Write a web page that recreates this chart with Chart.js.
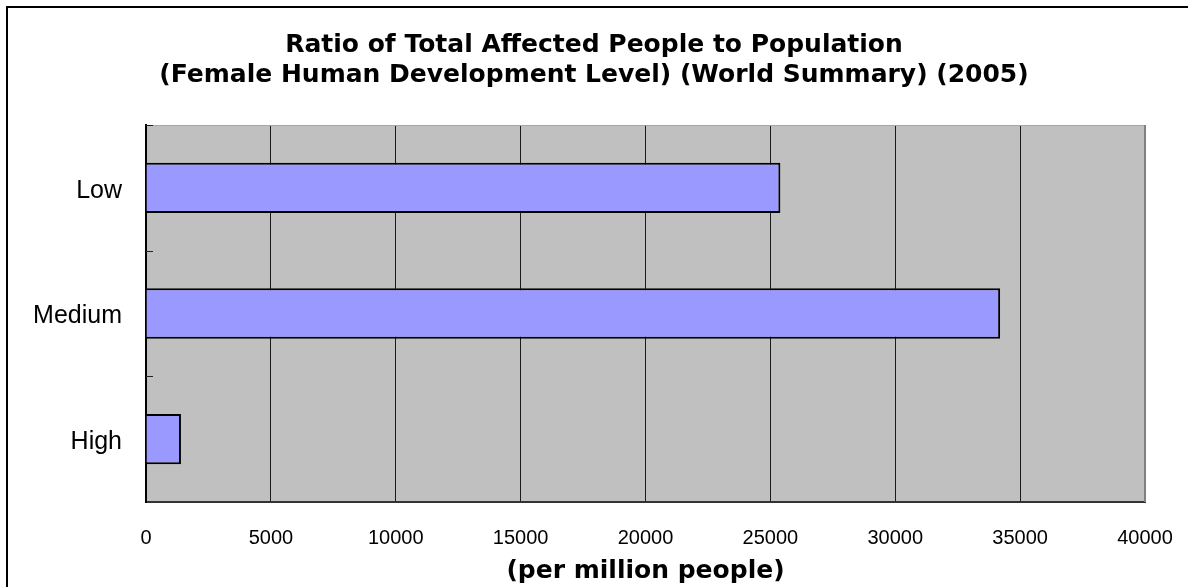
<!DOCTYPE html>
<html>
<head>
<meta charset="utf-8">
<script src="https://cdn.jsdelivr.net/npm/chart.js@4/dist/chart.umd.min.js"></script>
<style>
  body { margin: 0; background: #fff; }
  canvas { display: block; }
</style>
</head>
<body>
<canvas id="myChart" width="1188" height="587"></canvas>
<script>
var levels = ["Low", "Medium", "High"];
var ratios = [25400, 34200, 1400];
var xTicks = [0, 5000, 10000, 15000, 20000, 25000, 30000, 35000, 40000];
var titleLines = [
  "Ratio of Total Affected People to Population",
  "(Female Human Development Level) (World Summary) (2005)",
];
var unitLabel = "(per million people)";

var ctx = document.getElementById("myChart").getContext("2d");

// grey plot area, the odd excel style edges and the outer frame
var plotDecor = {
  id: "plotDecor",
  beforeDraw: function (chart) {
    var a = chart.chartArea;
    var c = chart.ctx;
    c.save();
    c.fillStyle = "#c0c0c0";
    c.fillRect(a.left, a.top, a.right - a.left, a.bottom - a.top);
    c.restore();
  },
  beforeDatasetsDraw: function (chart) {
    var a = chart.chartArea;
    var c = chart.ctx;
    var y = chart.scales.y;
    c.save();
    c.lineWidth = 1;
    c.strokeStyle = "#a6a6a6";
    c.beginPath();
    c.moveTo(a.left, a.top + 0.5);
    c.lineTo(a.right, a.top + 0.5);
    c.stroke();
    c.lineWidth = 2;
    c.strokeStyle = "#808080";
    c.beginPath();
    c.moveTo(a.right, a.top);
    c.lineTo(a.right, a.bottom);
    c.stroke();
    // small inside tick marks between the categories
    c.lineWidth = 1;
    c.strokeStyle = "#222";
    var step = (y.bottom - y.top) / levels.length;
    for (var i = 0; i < levels.length; i++) {
      var yy = Math.round(y.top + i * step) + 0.5;
      c.beginPath();
      c.moveTo(a.left, yy);
      c.lineTo(a.left + 7, yy);
      c.stroke();
    }
    c.restore();
  },
  afterDraw: function (chart) {
    var c = chart.ctx;
    c.save();
    c.lineWidth = 2;
    c.strokeStyle = "#000";
    c.strokeRect(7, 7, 1400, 1400);
    c.restore();
  },
};

var myChart = new Chart(ctx, {
  type: "bar",
  data: {
    labels: levels,
    datasets: [
      {
        data: ratios,
        backgroundColor: "#9999ff",
        borderColor: "#000",
        borderWidth: 2,
        barPercentage: 0.4,
        categoryPercentage: 1,
      },
    ],
  },
  options: {
    indexAxis: "y",
    responsive: false,
    animation: false,
    devicePixelRatio: 1,
    layout: {
      padding: 0,
    },
    scales: {
      x: {
        min: 0,
        max: 40000,
        afterBuildTicks: function (scale) {
          scale.ticks = xTicks.map(function (v) { return { value: v }; });
        },
        afterFit: function (scale) {
          scale.height = 85;
        },
        grid: {
          color: "#1a1a1a",
          lineWidth: 1,
          drawTicks: true,
          tickLength: 24,
          tickColor: "rgba(0,0,0,0)",
        },
        border: {
          color: "#333",
          width: 2,
        },
        ticks: {
          padding: 0,
          color: "#000",
          font: { family: "'Liberation Sans', Arial, sans-serif", size: 20 },
          callback: function (v) {
            return String(v);
          },
        },
        title: {
          display: true,
          text: unitLabel,
          color: "#000",
          padding: { top: 0, bottom: 3 },
          font: { family: "'DejaVu Sans', sans-serif", size: 25, weight: "bold", lineHeight: 1 },
        },
      },
      y: {
        afterFit: function (scale) {
          scale.width = 146;
        },
        grid: {
          display: true,
          drawOnChartArea: false,
          drawTicks: false,
        },
        border: {
          color: "#000",
          width: 2,
        },
        ticks: {
          padding: 24,
          labelOffset: 3,
          color: "#000",
          font: { family: "'Liberation Sans', Arial, sans-serif", size: 25 },
        },
      },
      // empty axis on the right, only keeps the white margin there
      yRight: {
        type: "linear",
        position: "right",
        afterFit: function (scale) {
          scale.width = 43;
        },
        grid: { display: false },
        border: { display: false },
        ticks: { display: false },
      },
    },
    plugins: {
      legend: {
        display: false,
      },
      tooltip: {
        enabled: false,
      },
      title: {
        display: true,
        text: titleLines,
        color: "#000",
        padding: { top: 30, bottom: 35 },
        font: { family: "'DejaVu Sans', sans-serif", size: 25, weight: "bold", lineHeight: 1.2 },
      },
    },
  },
  plugins: [plotDecor],
});
</script>
</body>
</html>
